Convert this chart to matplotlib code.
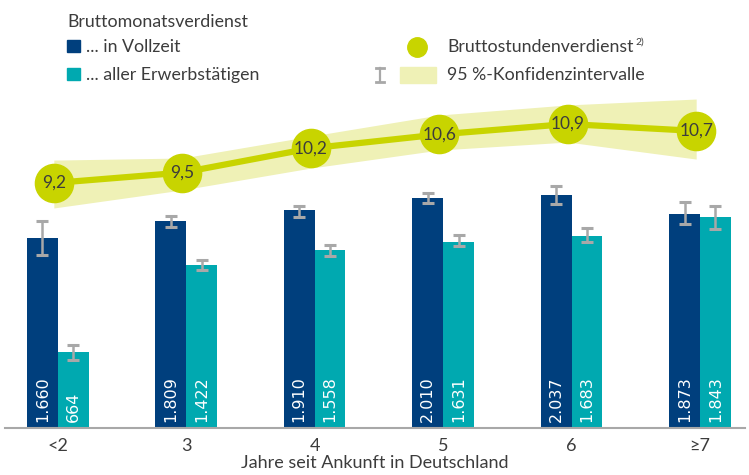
import matplotlib.pyplot as plt
import numpy as np

# Data
categories = ['<2', '3', '4', '5', '6', '≥7']
vollzeit = [1660, 1809, 1910, 2010, 2037, 1873]
vollzeit_lo = [1514, 1759, 1846, 1969, 1960, 1785]
vollzeit_hi = [1811, 1855, 1942, 2056, 2117, 1977]
alle = [664, 1422, 1558, 1631, 1683, 1843]
alle_lo = [595, 1382, 1505, 1592, 1627, 1741]
alle_hi = [726, 1470, 1601, 1689, 1750, 1942]
stunden = [9.2, 9.5, 10.2, 10.6, 10.9, 10.7]
stunden_lo = [8.48, 9.0, 9.63, 10.15, 10.38, 9.89]
stunden_hi = [9.86, 9.92, 10.55, 11.16, 11.45, 11.62]

DARK = '#003f7d'
TEAL = '#00a9b0'
LIME = '#c8d400'
BAND = '#eff1b6'
GREY = '#a8a8a8'
TEXT = '#3c3c3c'

plt.rcParams['font.family'] = ['Lato', 'DejaVu Sans']

fig = plt.figure(figsize=(7.49, 4.75), dpi=100)
ax = fig.add_axes([5 / 749, 1 - 428 / 475, 740 / 749, 428 / 475])

x = np.arange(len(categories))
w = 0.24

# Bars with confidence whiskers
ax.bar(x - w / 2, vollzeit, w, color=DARK, zorder=2)
ax.bar(x + w / 2, alle, w, color=TEAL, zorder=2)
for vals, lo, hi, off in [(vollzeit, vollzeit_lo, vollzeit_hi, -w / 2),
                          (alle, alle_lo, alle_hi, w / 2)]:
    err = [np.array(vals) - np.array(lo), np.array(hi) - np.array(vals)]
    ax.errorbar(x + off, vals, yerr=err, fmt='none', ecolor=GREY,
                elinewidth=1.8, capsize=4, capthick=2.2, zorder=3)

# Value labels inside bars
for i in range(len(categories)):
    ax.text(x[i] - w / 2, 55, f'{vollzeit[i]:,}'.replace(',', '.'), rotation=90,
            ha='center', va='bottom', color='white', fontsize=11.5,
            family='DejaVu Sans', zorder=4)
    ax.text(x[i] + w / 2, 55, f'{alle[i]:,}'.replace(',', '.'), rotation=90,
            ha='center', va='bottom', color='white', fontsize=11.5,
            family='DejaVu Sans', zorder=4)

ax.set_xlim(-0.41, 5.35)
ax.set_ylim(0, 3745)
ax.set_yticks([])
ax.set_xticks(x)
ax.set_xticklabels(categories, fontsize=13, color=TEXT)
ax.tick_params(axis='x', length=0, pad=7)
ax.set_xlabel('Jahre seit Ankunft in Deutschland', fontsize=13, color=TEXT, labelpad=1)
for s in ['top', 'right', 'left']:
    ax.spines[s].set_visible(False)
ax.spines['bottom'].set_color(GREY)
ax.spines['bottom'].set_linewidth(1.5)
ax.patch.set_alpha(0)

# Hourly wage line on its own scale
ax2 = ax.twinx()
ax2.set_ylim(2.139, 14.474)
ax2.set_xlim(-0.41, 5.35)
ax2.axis('off')
xl = x - 0.03
ax2.fill_between(xl, stunden_lo, stunden_hi, color=BAND, lw=0, zorder=1)
ax2.plot(xl, stunden, color=LIME, lw=4.5, zorder=2)
ax2.plot(xl, stunden, 'o', color=LIME, markersize=27.5, zorder=3)
for xi, v in zip(xl, stunden):
    ax2.text(xi, v, f'{v:.1f}'.replace('.', ','), ha='center', va='center',
             fontsize=12.5, color=TEXT, zorder=4)

# Legend drawn by hand
def fx(px):
    return px / 749

def fy(py):
    return 1 - py / 475

LEG = 12.8
fig.text(fx(67), fy(22), 'Bruttomonatsverdienst', fontsize=LEG, color=TEXT, va='center')
fig.add_artist(plt.Rectangle((fx(67), fy(52)), fx(13), 12 / 475, color=DARK,
                             transform=fig.transFigure))
fig.text(fx(86), fy(47), '... in Vollzeit', fontsize=LEG, color=TEXT, va='center')
fig.add_artist(plt.Rectangle((fx(67), fy(80)), fx(13), 12 / 475, color=TEAL,
                             transform=fig.transFigure))
fig.text(fx(86), fy(75), '... aller Erwerbstätigen', fontsize=LEG, color=TEXT, va='center')

fig.add_artist(plt.Line2D([fx(417)], [fy(47)], marker='o', markersize=14, color=LIME,
                          linestyle='none', transform=fig.transFigure))
t = fig.text(fx(447), fy(47), 'Bruttostundenverdienst', fontsize=LEG, color=TEXT, va='center')
fig.canvas.draw()
bb = t.get_window_extent()
fig.text(bb.x1 / fig.bbox.width + 0.002, fy(42), '2)', fontsize=7.5, color=TEXT, va='center')

fig.add_artist(plt.Line2D([fx(380), fx(380)], [fy(82), fy(68)], color=GREY, lw=1.6,
                          transform=fig.transFigure))
for yy in (68, 82):
    fig.add_artist(plt.Line2D([fx(376), fx(384)], [fy(yy), fy(yy)], color=GREY, lw=2,
                              transform=fig.transFigure))
fig.add_artist(plt.Rectangle((fx(400), fy(83)), fx(36), 16 / 475, color=BAND,
                             transform=fig.transFigure))
fig.text(fx(447), fy(75), '95 %-Konfidenzintervalle', fontsize=LEG, color=TEXT, va='center')

plt.savefig('out.png', dpi=100)
plt.close()
